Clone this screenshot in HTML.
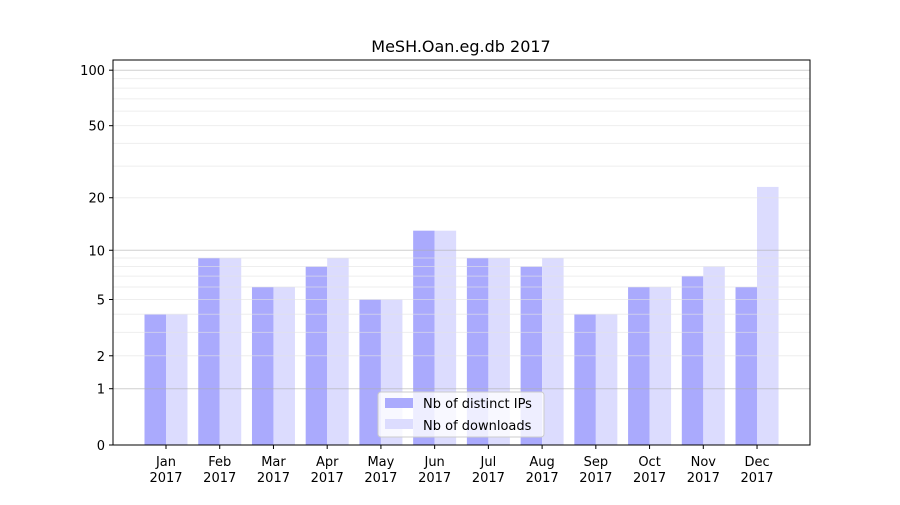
<!DOCTYPE html>
<html><head><meta charset="utf-8"><style>
body{margin:0;background:#fff;font-family:"Liberation Sans",sans-serif}
text{font-family:"DejaVu Sans","Liberation Sans",sans-serif}
</style></head><body>
<svg id="chart" width="900" height="500" xmlns="http://www.w3.org/2000/svg">
<rect width="900" height="500" fill="#fff"/>
<text x="461" y="52" text-anchor="middle" font-size="16">MeSH.Oan.eg.db 2017</text>
<g id="bars"></g><g id="grid" opacity="0.6"></g><g id="axes"></g>
<rect x="113" y="60" width="697" height="385" fill="none" stroke="#000" stroke-width="1"/>
<g>
<rect x="378" y="392" width="166" height="45" fill="#fff" fill-opacity="0.8" stroke="#ccc" rx="3"/>
<rect x="385" y="398" width="28" height="10" fill="#aaaafd"/>
<text x="423" y="408" font-size="13">Nb of distinct IPs</text>
<rect x="385" y="419" width="28" height="10" fill="#dcdcfe"/>
<text x="423" y="430" font-size="13">Nb of downloads</text>
</g>
</svg>
<script>
const months=["Jan","Feb","Mar","Apr","May","Jun","Jul","Aug","Sep","Oct","Nov","Dec"];
const ips=[4,9,6,8,5,13,9,8,4,6,7,6];
const downloads=[4,9,6,9,5,13,9,9,4,6,8,23];
const yTicks=[0,1,2,5,10,20,50,100];
const NS="http://www.w3.org/2000/svg";
function y(v){return 445-187*Math.log10(1+v);}
function x(i){return 166+i*53.73;}
function mk(t,a,p){const e=document.createElementNS(NS,t);for(const k in a)e.setAttribute(k,a[k]);p.appendChild(e);return e;}
const grid=document.getElementById('grid'),bars=document.getElementById('bars'),axes=document.getElementById('axes');
for(let d=1;d<=100;d*=10){for(let m=1;m<10;m++){const v=d*m;if(v>110)break;const major=m===1;
const l=mk('line',{x1:113,x2:810,y1:y(v),y2:y(v),stroke:major?'#b0b0b0':'#e4e4e4','stroke-width':1},grid);
}}
months.forEach((m,i)=>{
const b1=mk('rect',{x:x(i)-21.5,y:y(ips[i]),width:21.5,height:445-y(ips[i]),fill:'#aaaafd'},bars);

const b2=mk('rect',{x:x(i),y:y(downloads[i]),width:21.5,height:445-y(downloads[i]),fill:'#dcdcfe'},bars);

mk('line',{x1:x(i),x2:x(i),y1:445,y2:449,stroke:'#000'},axes);
const t=mk('text',{x:x(i),y:466,'text-anchor':'middle','font-size':13},axes);t.textContent=m;

const t2=mk('text',{x:x(i),y:482,'text-anchor':'middle','font-size':13},axes);t2.textContent='2017';

});
yTicks.forEach(v=>{mk('line',{x1:109,x2:113,y1:y(v),y2:y(v),stroke:'#000'},axes);
const t=mk('text',{x:105,y:y(v)+5,'text-anchor':'end','font-size':13},axes);t.textContent=v;
});
</script>
</body></html>
